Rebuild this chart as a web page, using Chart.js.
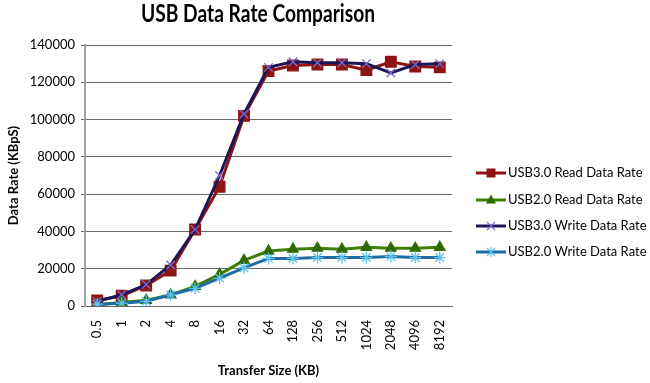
<!DOCTYPE html>
<html><head><meta charset="utf-8">
<script src="https://cdn.jsdelivr.net/npm/chart.js@4/dist/chart.umd.min.js"></script>
<style>html,body{margin:0;padding:0;background:#fff}#wrap{width:650px;height:383px}</style>
</head><body><div id="wrap"><canvas id="c" width="650" height="383"></canvas></div>
<script>
const categories = ['0.5','1','2','4','8','16','32','64','128','256','512','1024','2048','4096','8192'];
const usb3Read  = [3000,5500,11000,19000,41000,64000,102000,126000,129000,129500,129500,126500,131000,128500,128000];
const usb2Read  = [500,2000,3000,6000,10500,17000,24500,29500,30500,31000,30500,31500,31000,31000,31500];
const usb3Write = [2500,6000,11500,22000,41000,70000,103000,128000,131000,130500,130500,130000,125000,129500,130000];
const usb2Write = [1000,1500,2500,6000,9500,15000,20500,25500,25500,26000,26000,26000,26500,26000,26000];
const yTicks = [0,20000,40000,60000,80000,100000,120000,140000];
const chartTitle = 'USB Data Rate Comparison';

const series = [
  {label:'USB3.0 Read Data Rate', data:usb3Read, line:'#8E1414', mark:'#8E1414', style:'rect', r:7.5, order:3},
  {label:'USB2.0 Read Data Rate', data:usb2Read, line:'#3E7F06', mark:'#2F6A00', style:'triangle', r:6, order:2},
  {label:'USB3.0 Write Data Rate', data:usb3Write, line:'#1C1656', mark:'#7A6BD0', style:'crossRot', r:6, order:1},
  {label:'USB2.0 Write Data Rate', data:usb2Write, line:'#1F6CA6', mark:'#5EC3EA', style:'star', r:6, order:0}
];

const FONT = 'Lato, "Open Sans", sans-serif';

function legendMarker(ctx, style, cx, cy, color){
  ctx.fillStyle = color; ctx.strokeStyle = color; ctx.lineWidth = 1.2;
  if (style === 'rect'){
    ctx.fillRect(cx-4.5, cy-4.5, 9, 9);
  } else if (style === 'triangle'){
    ctx.beginPath(); ctx.moveTo(cx, cy-5.5); ctx.lineTo(cx+5, cy+3.5); ctx.lineTo(cx-5, cy+3.5); ctx.closePath(); ctx.fill();
  } else if (style === 'crossRot'){
    const d = 4;
    ctx.beginPath(); ctx.moveTo(cx-d, cy-d); ctx.lineTo(cx+d, cy+d); ctx.moveTo(cx+d, cy-d); ctx.lineTo(cx-d, cy+d); ctx.stroke();
  } else if (style === 'star'){
    const d = 4;
    ctx.beginPath(); ctx.moveTo(cx-d, cy-d); ctx.lineTo(cx+d, cy+d); ctx.moveTo(cx+d, cy-d); ctx.lineTo(cx-d, cy+d);
    ctx.moveTo(cx, cy-5); ctx.lineTo(cx, cy+5); ctx.stroke();
  }
}

const decorPlugin = {
  id:'decor',
  afterDraw(chart){
    const ctx = chart.ctx;
    ctx.save();
    ctx.fillStyle = '#000';
    ctx.font = 'bold 24px ' + FONT;
    ctx.textBaseline = 'alphabetic';
    ctx.textAlign = 'center';
    const w = ctx.measureText(chartTitle).width;
    const sx = 234 / w;
    ctx.translate(258, 22);
    ctx.scale(sx, 1);
    ctx.fillText(chartTitle, 0, 0);
    ctx.restore();
    ctx.save();
    const x0 = 476, ys = [173, 200, 226, 252];
    series.forEach((s,i)=>{
      const y = ys[i];
      ctx.strokeStyle = s.line; ctx.lineWidth = 3;
      ctx.beginPath(); ctx.moveTo(x0, y); ctx.lineTo(x0+30, y); ctx.stroke();
      legendMarker(ctx, s.style, x0+15, y, s.mark);
      ctx.fillStyle = '#000';
      ctx.font = '13px ' + FONT;
      ctx.textBaseline = 'middle';
      ctx.textAlign = 'left';
      ctx.fillText(s.label, x0+32, y);
    });
    ctx.restore();
  }
};

new Chart(document.getElementById('c'), {
  type:'line',
  data:{
    labels:categories,
    datasets: series.map(s=>({
      label:s.label, data:s.data, borderColor:s.line, backgroundColor:s.mark,
      pointBackgroundColor:s.mark, pointBorderColor:s.mark, pointStyle:s.style,
      pointRadius:s.r, pointBorderWidth:1.3, borderWidth:3, tension:0, order:s.order
    }))
  },
  options:{
    responsive:false, animation:false,
    layout:{padding:{left:2, right:198, top:45, bottom:0}},
    plugins:{ legend:{display:false}, tooltip:{enabled:false}, title:{display:false} },
    scales:{
      x:{
        offset:true,
        grid:{display:false, drawTicks:false},
        border:{display:true, color:'#6a6a6a', width:1},
        ticks:{color:'#000', font:{family:FONT, size:13}, maxRotation:90, minRotation:90, padding:14, autoSkip:false},
        title:{display:true, text:'Transfer Size (KB)', color:'#000', font:{family:FONT, size:13, weight:'bold'}, padding:{top:14}},
        afterFit(scale){ scale.height = 77; }
      },
      y:{
        min:0, max:140000,
        afterBuildTicks(scale){ scale.ticks = yTicks.map(v=>({value:v})); },
        grid:{color:'#6a6a6a', lineWidth:1, tickLength:4, drawTicks:true},
        border:{display:true, color:'#a0a0a0', width:2},
        ticks:{color:'#000', font:{family:FONT, size:13}, padding:6, callback:(v)=>String(v)},
        title:{display:true, text:'Data Rate (KBpS)', color:'#000', font:{family:FONT, size:13, weight:'bold'}, padding:{bottom:4}},
        afterFit(scale){ scale.width = 83; }
      }
    }
  },
  plugins:[decorPlugin]
});
</script></body></html>
